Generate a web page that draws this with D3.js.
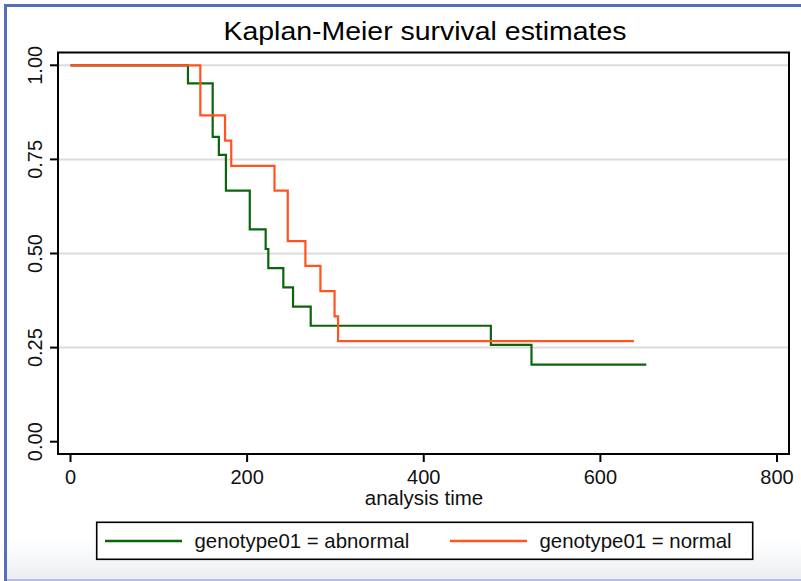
<!DOCTYPE html>
<html>
<head>
<meta charset="utf-8">
<script src="https://cdn.jsdelivr.net/npm/d3@7"></script>
<style>
  body { margin: 0; background: #fff; }
  svg { display: block; font-family: Arial, "Liberation Sans", sans-serif; }
</style>
</head>
<body>
<div id="chart"></div>
<script>
// step times and survival estimates
const abnormalTimes = [0, 133, 161, 168, 176, 203, 221, 224, 241, 252, 272, 476, 522, 652]
const abnormalSurv  = [1, 0.952, 0.810, 0.762, 0.667, 0.564, 0.512, 0.461, 0.410, 0.359, 0.308, 0.257, 0.205, 0.205]
const normalTimes = [0, 147, 175, 182, 231, 246, 266, 283, 299, 303, 638]
const normalSurv  = [1, 0.867, 0.800, 0.733, 0.667, 0.533, 0.467, 0.400, 0.333, 0.267, 0.267]

const xTicks = [0, 200, 400, 600, 800]
const yTicks = [0, 0.25, 0.5, 0.75, 1]
const gridTicks = [0.25, 0.5, 0.75, 1]
const seriesNames = ["genotype01 = abnormal", "genotype01 = normal"]
const seriesColors = ["#0b650b", "#ff5320"]

const width = 801
const height = 581

const svg = d3.select("#chart").append("svg")
    .attr("width", width)
    .attr("height", height)

// soft grey band at the bottom of the frame
const grad = svg.append("defs").append("linearGradient")
    .attr("id", "bottomFade")
    .attr("x1", 0).attr("y1", 0).attr("x2", 0).attr("y2", 1)
grad.append("stop").attr("offset", "0%").attr("stop-color", "#ffffff")
grad.append("stop").attr("offset", "100%").attr("stop-color", "#eceef2")
svg.append("rect")
    .attr("x", 7).attr("y", 540)
    .attr("width", width - 7).attr("height", 39)
    .attr("fill", "url(#bottomFade)")

// blue frame, left and top
svg.append("rect").attr("x", 4).attr("y", 4).attr("width", 3).attr("height", 577).attr("fill", "#5470b6")
svg.append("rect").attr("x", 4).attr("y", 4).attr("width", width - 4).attr("height", 3).attr("fill", "#5470b6")
svg.append("rect").attr("x", 7).attr("y", 579).attr("width", width - 7).attr("height", 2).attr("fill", "#b4c0e2")

const x = d3.scaleLinear().domain([0, 800]).range([70.5, 777])
const y = d3.scaleLinear().domain([0, 1]).range([441.7, 65.3])

const plot = {left: 58, right: 789, top: 52.5, bottom: 454}

// grid
svg.append("g")
    .selectAll("line")
    .data(gridTicks)
    .enter()
    .append("line")
    .attr("x1", plot.left)
    .attr("x2", plot.right)
    .attr("y1", d => y(d))
    .attr("y2", d => y(d))
    .attr("stroke", "#dcdcdc")
    .attr("stroke-width", 2)

// curves
const stepLine = d3.line()
    .x(d => x(d[0]))
    .y(d => y(d[1]))
    .curve(d3.curveStepAfter)

const series = [
    abnormalTimes.map((t, i) => [t, abnormalSurv[i]]),
    normalTimes.map((t, i) => [t, normalSurv[i]])
]

series.forEach((pts, i) => {
    svg.append("path")
        .attr("d", stepLine(pts))
        .attr("fill", "none")
        .attr("stroke", seriesColors[i])
        .attr("stroke-width", 2.2)
})

// plot box
svg.append("rect")
    .attr("x", plot.left)
    .attr("y", plot.top)
    .attr("width", plot.right - plot.left)
    .attr("height", plot.bottom - plot.top)
    .attr("fill", "none")
    .attr("stroke", "#000")
    .attr("stroke-width", 2)

// y axis
const yAxis = svg.append("g")
yAxis.selectAll("line")
    .data(yTicks)
    .enter()
    .append("line")
    .attr("x1", plot.left - 8)
    .attr("x2", plot.left)
    .attr("y1", d => y(d))
    .attr("y2", d => y(d))
    .attr("stroke", "#000")
    .attr("stroke-width", 2)
yAxis.selectAll("text")
    .data(yTicks)
    .enter()
    .append("text")
    .attr("transform", d => "translate(42," + y(d) + ") rotate(-90)")
    .attr("text-anchor", "middle")
    .attr("font-size", 20)
    .attr("fill", "#111")
    .text(d => d3.format(".2f")(d))

// x axis
const xAxis = svg.append("g")
xAxis.selectAll("line")
    .data(xTicks)
    .enter()
    .append("line")
    .attr("x1", d => x(d))
    .attr("x2", d => x(d))
    .attr("y1", plot.bottom)
    .attr("y2", plot.bottom + 8)
    .attr("stroke", "#000")
    .attr("stroke-width", 2)
xAxis.selectAll("text")
    .data(xTicks)
    .enter()
    .append("text")
    .attr("x", d => x(d))
    .attr("y", 484)
    .attr("text-anchor", "middle")
    .attr("font-size", 20)
    .attr("fill", "#111")
    .text(d => d)

svg.append("text")
    .attr("x", 424)
    .attr("y", 505)
    .attr("text-anchor", "middle")
    .attr("font-size", 20.5)
    .attr("fill", "#111")
    .text("analysis time")

// title
svg.append("text")
    .attr("x", 425)
    .attr("y", 39.5)
    .attr("text-anchor", "middle")
    .attr("font-size", 26)
    .attr("textLength", 403)
    .attr("lengthAdjust", "spacingAndGlyphs")
    .attr("fill", "#000")
    .text("Kaplan-Meier survival estimates")

// legend
const legend = svg.append("g")
legend.append("rect")
    .attr("x", 96.7)
    .attr("y", 522.3)
    .attr("width", 656)
    .attr("height", 37)
    .attr("fill", "#fff")
    .attr("stroke", "#000")
    .attr("stroke-width", 1.6)

const legendX = [105, 450]
seriesNames.forEach((name, i) => {
    legend.append("line")
        .attr("x1", legendX[i])
        .attr("x2", legendX[i] + 77)
        .attr("y1", 541)
        .attr("y2", 541)
        .attr("stroke", seriesColors[i])
        .attr("stroke-width", 2.4)
    legend.append("text")
        .attr("x", legendX[i] + 89.5)
        .attr("y", 548)
        .attr("font-size", 20.4)
        .attr("fill", "#111")
        .text(name)
})
</script>
</body>
</html>
